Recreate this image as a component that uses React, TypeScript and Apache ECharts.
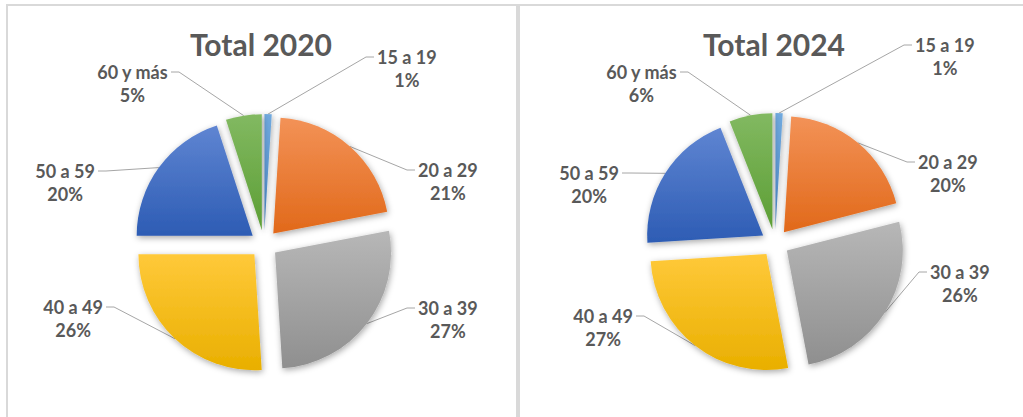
import React, { useEffect, useRef } from 'react';
import * as echarts from 'echarts';

// ---------- data ----------
const AGE_GROUPS = ['15 a 19', '20 a 29', '30 a 39', '40 a 49', '50 a 59', '60 y más'];
const SHARE_2020 = [1, 21, 27, 26, 20, 5];
const SHARE_2024 = [1, 20, 26, 27, 20, 6];
const TITLES = ['Total 2020', 'Total 2024'];

// ---------- styles / layout ----------
const TOP_COLORS = ['#70A9DE', '#F39257', '#B7B7B7', '#FFC93A', '#5F85D2', '#82B961'];
const BOTTOM_COLORS = ['#4A88C6', '#E1691A', '#8F8F8F', '#E9AF00', '#2D5CB4', '#5C9E35'];
const TEXT_COLOR = '#595959';
const LINE_COLOR = '#A6A6A6';
const BORDER_COLOR = '#D9D9D9';
const FONT = 'Lato, "Open Sans", sans-serif';
const RADIUS = 116;
const EXPLODE = 14;
const LABEL_FONT = 18;
const LABEL_LINE_H = 23;

type LabelPos = [number, number, 'left' | 'right'];
const PIE_LAYOUTS: { center: [number, number]; titleX: number; labels: LabelPos[] }[] = [
  {
    center: [264, 244],
    titleX: 261,
    labels: [
      [377, 57, 'left'],
      [418, 170, 'left'],
      [418, 308, 'left'],
      [103, 307, 'right'],
      [95, 171, 'right'],
      [168, 72, 'right'],
    ],
  },
  {
    center: [775, 243],
    titleX: 774,
    labels: [
      [915, 45, 'left'],
      [918, 162, 'left'],
      [930, 272, 'left'],
      [633, 316, 'right'],
      [619, 173, 'right'],
      [677, 72, 'right'],
    ],
  },
];

function midAngles(values: number[]): number[] {
  const total = values.reduce((a, b) => a + b, 0);
  let acc = 0;
  return values.map((v) => {
    const m = ((acc + v / 2) / total) * Math.PI * 2;
    acc += v;
    return m;
  });
}

function buildSeries(values: number[], idx: number): any[] {
  const layout = PIE_LAYOUTS[idx];
  const [cx, cy] = layout.center;
  const mids = midAngles(values);
  const visible = {
    type: 'pie',
    center: [cx, cy],
    radius: RADIUS,
    startAngle: 90,
    clockwise: true,
    selectedMode: 'multiple',
    selectedOffset: EXPLODE,
    avoidLabelOverlap: false,
    label: { show: false },
    labelLine: { show: false },
    emphasis: { disabled: true },
    select: { itemStyle: {} },
    itemStyle: {
      shadowBlur: 6,
      shadowColor: 'rgba(0,0,0,0.35)',
      shadowOffsetX: 1,
      shadowOffsetY: 2,
    },
    data: values.map((v, i) => ({
      name: AGE_GROUPS[i],
      value: v,
      selected: true,
      itemStyle: {
        color: new echarts.graphic.LinearGradient(0, 0, 0, 1, [
          { offset: 0, color: TOP_COLORS[i] },
          { offset: 1, color: BOTTOM_COLORS[i] },
        ]),
      },
    })),
  };
  const labels = {
    type: 'pie',
    center: [cx, cy],
    radius: RADIUS,
    startAngle: 90,
    clockwise: true,
    silent: true,
    avoidLabelOverlap: false,
    emphasis: { disabled: true },
    itemStyle: { color: 'rgba(0,0,0,0)' },
    label: {
      show: true,
      position: 'outside',
      formatter: (p: any) => `{a|${p.name}}\n{a|${p.value}%}`,
      rich: {
        a: {
          fontFamily: FONT,
          fontSize: LABEL_FONT,
          fontWeight: 'bold',
          color: TEXT_COLOR,
          lineHeight: LABEL_LINE_H,
          align: 'center',
        },
      },
    },
    labelLine: { show: true, lineStyle: { color: LINE_COLOR, width: 1 } },
    labelLayout: (p: any) => {
      const i = p.dataIndex;
      const [lx, ly, side] = layout.labels[i];
      const dir = side === 'left' ? 1 : -1;
      const m = mids[i];
      const sx = cx + (RADIUS + EXPLODE) * Math.sin(m);
      const sy = cy - (RADIUS + EXPLODE) * Math.cos(m);
      const ex = lx - dir * 3;
      return {
        x: lx,
        y: ly - LABEL_LINE_H / 2,
        align: side,
        verticalAlign: 'top',
        labelLinePoints: [
          [sx, sy],
          [ex - dir * 8, ly],
          [ex, ly],
        ],
      };
    },
    data: values.map((v, i) => ({ name: AGE_GROUPS[i], value: v })),
  };
  return [visible, labels];
}

export default function App() {
  const ref = useRef<HTMLDivElement>(null);
  useEffect(() => {
    if (!ref.current) return;
    const chart = echarts.init(ref.current, undefined, { renderer: 'svg' });
    const graphic: any[] = [
      { type: 'rect', silent: true, shape: { x: 6, y: 4, width: 1030, height: 2 }, style: { fill: BORDER_COLOR } },
      { type: 'rect', silent: true, shape: { x: 6, y: 4, width: 2, height: 430 }, style: { fill: BORDER_COLOR } },
      { type: 'rect', silent: true, shape: { x: 516, y: 4, width: 4, height: 430 }, style: { fill: BORDER_COLOR } },
    ];
    TITLES.forEach((t, i) => {
      graphic.push({
        type: 'text',
        silent: true,
        x: PIE_LAYOUTS[i].titleX,
        y: 44,
        style: {
          text: t,
          font: `bold 30px ${FONT}`,
          fill: TEXT_COLOR,
          align: 'center',
          verticalAlign: 'middle',
        },
      });
    });
    chart.setOption({
      animation: false,
      backgroundColor: '#FFFFFF',
      graphic,
      series: [...buildSeries(SHARE_2020, 0), ...buildSeries(SHARE_2024, 1)],
    });
    return () => chart.dispose();
  }, []);
  return (
    <div
      ref={ref}
      style={{ position: 'fixed', left: 0, top: 0, width: 1023, height: 417 }}
    />
  );
}
